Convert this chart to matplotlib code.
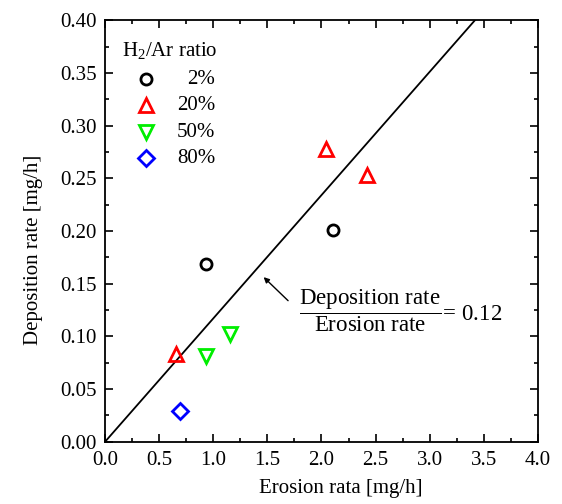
import matplotlib
matplotlib.use("Agg")
import matplotlib.pyplot as plt
from matplotlib.ticker import MultipleLocator

plt.rcParams["font.family"] = ["Liberation Serif", "DejaVu Serif"]
plt.rcParams["mathtext.fontset"] = "custom"
plt.rcParams["mathtext.rm"] = "Liberation Serif"
plt.rcParams["mathtext.it"] = "Liberation Serif:italic"

# data
series_labels = ["2%", "20%", "50%", "80%"]
erosion_2 = [0.93, 2.11]
deposition_2 = [0.169, 0.201]
erosion_20 = [0.66, 2.04, 2.425]
deposition_20 = [0.083, 0.278, 0.253]
erosion_50 = [0.93, 1.15]
deposition_50 = [0.081, 0.102]
erosion_80 = [0.69]
deposition_80 = [0.029]
ratio_slope = 0.117

FS = 15

styles = [
    dict(marker="o", color="black", ms=8),
    dict(marker="^", color="#ff0000", ms=10),
    dict(marker="v", color="#00ee00", ms=10),
    dict(marker="D", color="#0000ff", ms=8.5),
]
series = [
    (erosion_2, deposition_2),
    (erosion_20, deposition_20),
    (erosion_50, deposition_50),
    (erosion_80, deposition_80),
]

fig = plt.figure(figsize=(5.62, 5.04), dpi=100)
ax = fig.add_axes([0.187, 0.1236, 0.770, 0.8363])

ax.plot([0, 4], [0, ratio_slope * 4], color="black", lw=1.3)

for (xs, ys), st in zip(series, styles):
    ax.plot(xs, ys, ls="none", marker=st["marker"], ms=st["ms"],
            mfc="none", mec=st["color"], mew=2)

ax.set_xlim(0, 4.0)
ax.set_ylim(0, 0.40)
ax.xaxis.set_major_locator(MultipleLocator(0.5))
ax.xaxis.set_minor_locator(MultipleLocator(0.25))
ax.yaxis.set_major_locator(MultipleLocator(0.05))
ax.yaxis.set_minor_locator(MultipleLocator(0.025))
ax.xaxis.set_major_formatter(lambda v, p: f"{v:.1f}")
ax.yaxis.set_major_formatter(lambda v, p: f"{v:.2f}")
ax.tick_params(which="both", direction="in", top=True, right=True, labelsize=FS, width=1.2)
ax.tick_params(which="major", length=6)
ax.tick_params(which="minor", length=3)
ax.tick_params(axis="x", which="major", pad=7)
ax.tick_params(axis="y", which="major", pad=6)
for sp in ax.spines.values():
    sp.set_linewidth(1.3)

ax.set_xlabel("Erosion rata [mg/h]", fontsize=FS, va="center")
ax.set_ylabel("Deposition rate [mg/h]", fontsize=FS, va="center")
ax.xaxis.set_label_coords(0.545, -0.11)
ax.yaxis.set_label_coords(-0.165, 0.455)

# manual legend, labels right aligned like the original
ax.text(0.039, 0.929, r"H$_2$/Ar ratio", transform=ax.transAxes, fontsize=FS,
        ha="left", va="center")
row_y = [0.860, 0.798, 0.734, 0.672]
for lab, st, yy in zip(series_labels, styles, row_y):
    ax.plot([0.095], [yy], transform=ax.transAxes, ls="none", marker=st["marker"],
            ms=st["ms"], mfc="none", mec=st["color"], mew=2, clip_on=False)
    ax.text(0.254, yy, lab, transform=ax.transAxes, fontsize=FS, ha="right", va="center")

ax.annotate("", xy=(1.447, 0.158), xytext=(1.71, 0.132),
            arrowprops=dict(arrowstyle="-|>", color="black", lw=1, mutation_scale=8))
ax.text(1.79, 0.124,
        r"$\dfrac{\mathrm{Deposition\ rate}}{\mathrm{Erosion\ rate}}\!=\,0.12$",
        fontsize=FS + 1.5, ha="left", va="center")

fig.savefig("out.png", dpi=100)
